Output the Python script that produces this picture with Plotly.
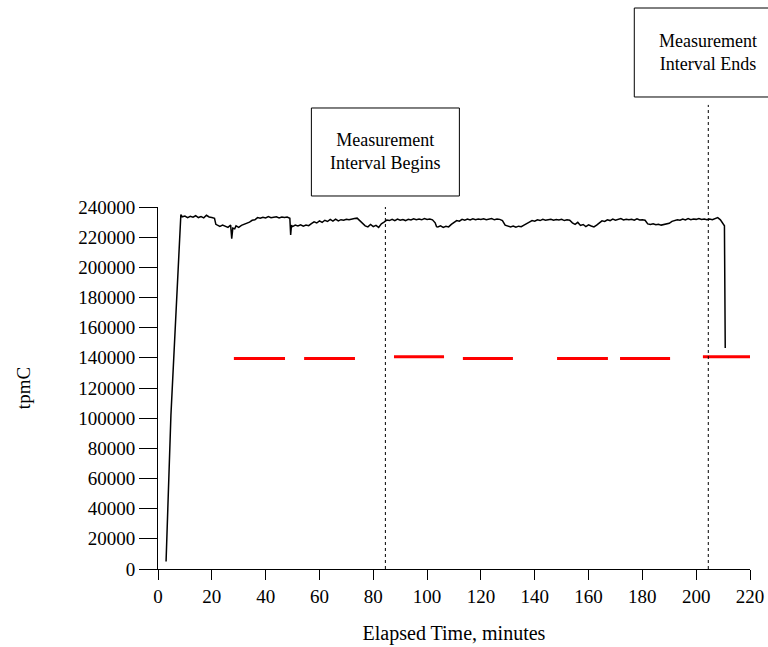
import plotly.graph_objects as go

# ---- data ----
tpmc_minutes = [3.0, 4.8, 8.5,
    9, 10, 11, 12, 13, 14, 15, 16, 17, 18, 19, 20, 21, 21.5, 22, 23, 24, 25, 26, 27, 27.4, 27.8, 28.5,
    29, 30, 31, 32, 33, 34, 35, 36, 37, 38, 39, 40, 41, 42, 43, 44, 45, 46, 47, 48, 49, 49.3, 49.6,
    50, 51, 52, 53, 54, 55, 56, 57, 58, 59, 60, 61, 62, 63, 64, 65, 66, 67, 68, 69, 70, 71, 72, 73, 74,
    75, 76, 77, 78, 79, 80, 81, 82, 83, 84, 85, 86, 87, 88, 89, 90, 91, 92, 93, 94, 95, 96, 97, 98, 99,
    100, 101, 102, 103, 103.5, 104, 105, 106, 107, 108, 109, 110, 111, 112, 113, 114, 115, 116, 117,
    118, 119, 120, 121, 122, 123, 124, 125, 126, 127, 128, 129, 130, 131, 132, 133, 134, 135, 136, 137,
    138, 139, 140, 141, 142, 143, 144, 145, 146, 147, 148, 149, 150, 151, 152, 153, 154, 155, 156, 157,
    158, 159, 160, 161, 162, 163, 164, 165, 166, 167, 168, 169, 170, 171, 172, 173, 174, 175, 176, 177,
    178, 179, 180, 181, 182, 183, 184, 185, 186, 187, 188, 189, 190, 191, 192, 193, 194, 195, 196, 197,
    198, 199, 200, 201, 202, 203, 204, 205, 206, 207, 208, 209, 210, 210.5, 210.8]
tpmc_values_k = [5.0, 102.0, 235.0,
    233.5, 234.0, 233.0, 233.8, 233.2, 234.2, 233.0, 233.6, 232.8, 234.5, 233.4, 233.0, 232.5, 228.5, 228.0, 227.2, 228.0, 227.0, 226.5, 228.0, 219.0, 226.0, 225.5,
    227.5, 226.5, 227.8, 228.5, 229.5, 230.0, 231.2, 231.5, 233.0, 232.5, 233.2, 232.8, 233.6, 232.9, 233.2, 233.5, 232.8, 233.4, 233.0, 233.3, 232.5, 221.5, 228.0,
    227.0, 228.0, 227.5, 228.2, 227.3, 228.0, 227.6, 229.0, 230.2, 229.4, 230.8, 229.8, 231.2, 230.4, 231.8, 230.6, 232.0, 230.8, 231.6, 231.2, 231.9, 231.5, 231.7, 232.3, 232.6,
    231.0, 228.8, 227.5, 226.8, 228.4, 227.0, 227.8, 226.5, 228.9, 230.0, 231.3, 231.0, 231.8, 230.9, 232.0, 231.2, 231.7, 231.0, 231.9, 231.4, 232.2, 231.6, 232.0, 231.5, 232.4,
    231.8, 232.1, 231.5, 229.5, 227.0, 226.8, 227.5, 226.5, 227.2, 226.8, 228.5, 230.0, 231.0, 230.6, 231.8, 231.2, 232.0, 231.4, 232.2,
    231.5, 232.0, 231.7, 232.2, 231.6, 231.9, 232.3, 231.5, 232.0, 231.8, 231.0, 228.0, 227.2, 226.8, 227.4, 226.6, 227.3, 226.9, 228.0, 229.3,
    230.0, 231.0, 230.6, 231.5, 231.0, 231.8, 231.3, 231.6, 231.9, 231.2, 231.7, 231.4, 231.8, 231.0, 231.5, 231.2, 229.5, 228.5, 229.8, 227.8,
    228.4, 227.0, 228.2, 227.4, 226.8, 228.0, 229.6, 230.8, 230.4, 231.5, 231.0, 232.0, 231.3, 231.7, 232.3, 231.4, 231.9, 231.5, 231.8, 231.2,
    232.2, 231.4, 231.6, 231.2, 228.8, 228.4, 228.9, 228.2, 228.6, 228.0, 228.5, 229.0, 229.2, 230.5, 231.0, 231.6, 231.2, 232.0, 231.4, 232.3,
    231.6, 232.0, 231.8, 232.4, 231.7, 232.1, 231.5, 232.0, 231.6, 232.2, 233.0, 231.5, 229.0, 227.5, 146.5]

bar_starts = [28.2, 54.3, 87.7, 113.3, 148.3, 171.7, 202.5]
bar_ends = [47.2, 73.2, 106.3, 131.9, 167.2, 190.3, 221.1]
bar_values = [139500, 139500, 140800, 139500, 139500, 139500, 140800]

interval_begin = 84.5
interval_end = 204.5
x_ticks = list(range(0, 221, 20))
y_ticks = list(range(0, 240001, 20000))

# ---- figure ----
X_MAX = 220.0
fig = go.Figure()
fig.add_trace(go.Scatter(x=tpmc_minutes, y=[v * 1000 for v in tpmc_values_k], mode="lines",
                         line=dict(color="black", width=1.5), showlegend=False, hoverinfo="skip"))
bx, by = [], []
for s, e, v in zip(bar_starts, bar_ends, bar_values):
    bx += [s, e, None]
    by += [v, v, None]
fig.add_trace(go.Scatter(x=bx, y=by, mode="lines", line=dict(color="#ff0000", width=3),
                         showlegend=False, hoverinfo="skip"))

font_family = "Liberation Serif, Times New Roman, serif"

shapes = [
    dict(type="line", xref="paper", yref="paper", x0=interval_begin / X_MAX, x1=interval_begin / X_MAX,
         y0=0, y1=1.0, line=dict(color="black", width=1, dash="dot")),
    dict(type="line", xref="paper", yref="paper", x0=interval_end / X_MAX, x1=interval_end / X_MAX,
         y0=0, y1=1.282, line=dict(color="black", width=1, dash="dot")),
]
box_half = 74 / 592.0
boxes = [(interval_begin, 1.0304, 1.2735, "Measurement<br>Interval Begins"),
         (interval_end, 1.3039, 1.5497, "Measurement<br>Interval Ends")]
annotations = []
for xm, y0, y1, txt in boxes:
    xp = xm / X_MAX
    shapes.append(dict(type="rect", xref="paper", yref="paper", x0=xp - box_half, x1=xp + box_half,
                       y0=y0, y1=y1, line=dict(color="black", width=1), fillcolor="white"))
    annotations.append(dict(xref="paper", yref="paper", x=xp, y=(y0 + y1) / 2, text=txt,
                            showarrow=False, xanchor="center", yanchor="middle",
                            font=dict(family=font_family, size=18, color="black")))

fig.update_layout(
    width=768, height=647,
    margin=dict(l=158, r=18, t=207, b=78, autoexpand=False),
    paper_bgcolor="white", plot_bgcolor="white",
    font=dict(family=font_family, size=19, color="black"),
    shapes=shapes, annotations=annotations,
    hovermode=False,
    xaxis=dict(range=[0, X_MAX], tickvals=x_ticks, ticktext=[str(t) for t in x_ticks],
               ticks="outside", ticklen=10, tickwidth=1, tickcolor="black",
               showline=True, linecolor="black", linewidth=1, showgrid=False, zeroline=False,
               title=dict(text="Elapsed Time, minutes", standoff=20, font=dict(size=20))),
    yaxis=dict(range=[0, 240000], tickvals=y_ticks, ticktext=[str(t) for t in y_ticks],
               ticks="outside", ticklen=18, tickwidth=1, tickcolor="black",
               showline=True, linecolor="black", linewidth=1, showgrid=False, zeroline=False,
               title=dict(text="tpmC", standoff=42, font=dict(size=19))),
)
fig.write_html("out.html")
